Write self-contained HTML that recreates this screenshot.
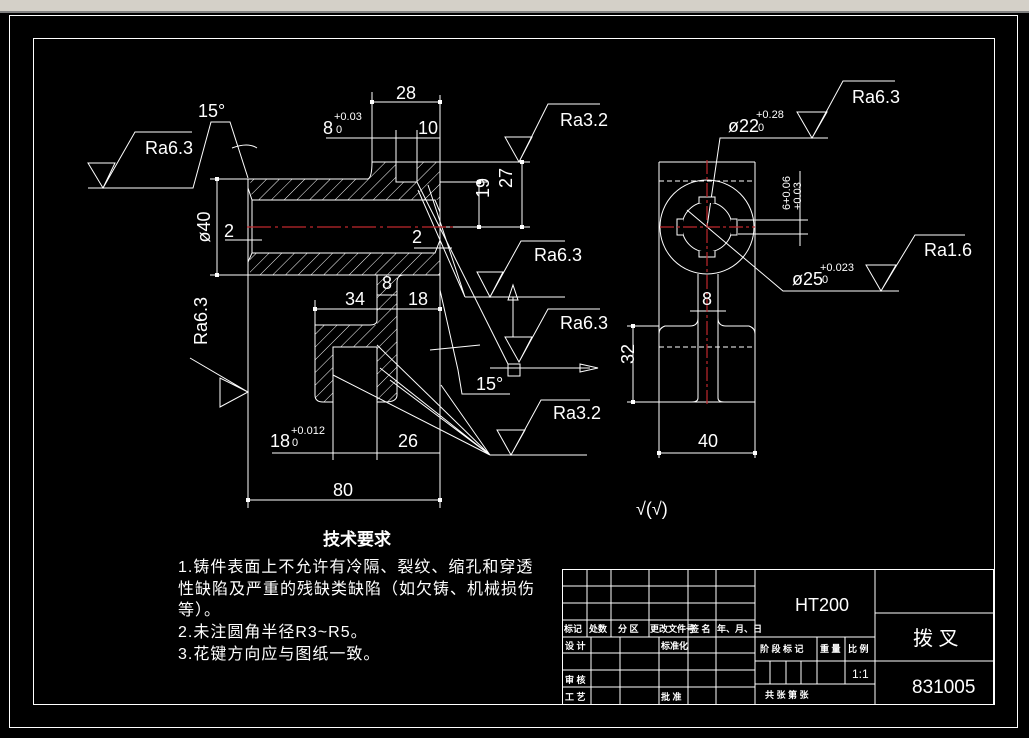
<!DOCTYPE html>
<html><head><meta charset="utf-8"><style>
html,body{margin:0;padding:0;background:#000;width:1029px;height:738px;overflow:hidden}
svg{display:block}
text{fill:#fff;font-family:"Liberation Sans",sans-serif}
.cn{font-family:"Liberation Sans","WenQuanYi Zen Hei","Noto Sans CJK SC",sans-serif}
</style></head><body>
<svg width="1029" height="738" viewBox="0 0 1029 738" xmlns="http://www.w3.org/2000/svg">
<defs>
<pattern id="h" width="9" height="9" patternUnits="userSpaceOnUse" patternTransform="rotate(45)">
<line x1="0" y1="0" x2="0" y2="9" stroke="#fff" stroke-width="1"/></pattern>
<marker id="a" markerWidth="6" markerHeight="6" refX="3" refY="3" orient="auto"><rect x="1" y="1" width="4" height="4" fill="#fff"/></marker>
</defs>
<rect x="0" y="0" width="1029" height="11" fill="#d4d0c8"/>
<rect x="0" y="11" width="1029" height="2" fill="#808080"/>
<g fill="none" stroke="#fff" stroke-width="1">
<rect x="9.5" y="15.5" width="1008" height="712"/>
<rect x="33.5" y="38.5" width="961" height="666"/>
</g>
<g fill="url(#h)" stroke="none">
<path d="M250,179 L368,179 Q372,175 372,162 L396,162 L396,182 L417,182 L417,162 L440,162 L440,200 L252,200 Z"/>
<path d="M250,253 L440,253 L440,275 L250,275 Z"/>
<path d="M315,325 L377,325 L377,275 L397,275 L397,398 Q397,402 385,402 L377,402 L377,347 L333,347 L333,402 L320,402 Q315,402 315,395 Z"/>
</g>
<g fill="none" stroke="#fff" stroke-width="1">
<path d="M248,179 L368,179 Q372,177 372,162 L440,162 L440,275 L248,275 Z"/>
<line x1="248" y1="179" x2="248" y2="508"/><line x1="440" y1="162" x2="440" y2="508"/>
<path d="M252,200 L435,200 L440,212 M252,253 L435,253 L440,240"/>
<path d="M248,188 L252,200 L252,253 L248,262"/>
<path d="M396,162 L396,182 L417,182 L417,162"/>
<path d="M377,275 L377,320 Q377,325 370,325 L315,325 L315,395 Q315,402 323,402 L333,402 L333,347 L377,347 L377,402 L385,402 Q397,402 397,395 L397,282 Q397,275 404,275"/>
<line x1="377" y1="347" x2="377" y2="460"/><line x1="333" y1="402" x2="333" y2="460"/>
<line x1="372" y1="92" x2="372" y2="162"/><line x1="440" y1="95" x2="440" y2="162"/>
<line x1="372" y1="102" x2="440" y2="102" marker-start="url(#a)" marker-end="url(#a)"/>
<line x1="326" y1="138" x2="440" y2="138"/><line x1="396" y1="130" x2="396" y2="162"/><line x1="417" y1="130" x2="417" y2="162"/>
<line x1="440" y1="182" x2="487" y2="182"/><line x1="479" y1="182" x2="479" y2="227" marker-start="url(#a)" marker-end="url(#a)"/>
<line x1="440" y1="162" x2="530" y2="162"/><line x1="522" y1="162" x2="522" y2="227" marker-start="url(#a)" marker-end="url(#a)"/>
<line x1="440" y1="227" x2="530" y2="227"/>
<line x1="210" y1="179" x2="248" y2="179"/><line x1="210" y1="275" x2="248" y2="275"/>
<line x1="217" y1="179" x2="217" y2="275" marker-start="url(#a)" marker-end="url(#a)"/>
<line x1="225" y1="240" x2="262" y2="240"/><line x1="414" y1="248" x2="452" y2="248"/>
<line x1="315" y1="300" x2="315" y2="325"/>
<line x1="315" y1="309" x2="440" y2="309" marker-start="url(#a)" marker-end="url(#a)"/>
<line x1="377" y1="295" x2="397" y2="295"/>
<line x1="272" y1="453" x2="440" y2="453"/>
<line x1="248" y1="500" x2="440" y2="500" marker-start="url(#a)" marker-end="url(#a)"/>
<path d="M88,163 L115,163 L103,188 Z M103,188 L135,132 L192,132 M88,188 L193,188 L211,122 L230,122 L248,178"/>
<path d="M232,148 Q248,142 257,148"/>
<path d="M505,137 L532,137 L519,162 Z M519,162 L548,104 L600,104"/>
<path d="M477,272 L503,272 L490,297 Z M490,297 L521,241 L565,241 M465,297 L565,297"/>
<path d="M465,297 L418,190 M465,297 L428,185"/>
<path d="M505,337 L532,337 L519,362 Z M519,362 L548,309 L600,309"/>
<line x1="513" y1="297" x2="513" y2="337"/><path d="M508,300 L513,285 L518,300 Z"/>
<rect x="508" y="364" width="12" height="12"/><line x1="490" y1="368" x2="590" y2="368"/><path d="M580,364 L598,368 L580,372 Z"/>
<path d="M417,182 L508,364 M440,290 L458,370 L462,394 L510,394"/>
<path d="M430,350 L480,345"/>
<path d="M497,430 L525,430 L511,455 Z M511,455 L541,400 L590,400 M490,455 L587,455"/>
<path d="M490,455 L333,375 M490,455 L377,345 M490,455 L380,368 M490,455 L390,380 M490,455 L441,385"/>
<path d="M190,358 L248,392 M220,378 L220,407 L248,392 Z"/>
<path d="M659,162 L755,162 M659,162 L659,458 M755,162 L755,458"/>
<line x1="659" y1="181" x2="755" y2="181" stroke-dasharray="5,3"/>
<line x1="659" y1="347" x2="755" y2="347" stroke-dasharray="5,3"/>
<circle cx="707" cy="227" r="47"/>
<circle cx="707" cy="227" r="25"/>
<path d="M698,274 L698,318 Q698,326 690,326 L665,326 Q659,328 659,334 M718,274 L718,318 Q718,326 726,326 L749,326 Q755,328 755,334"/>
<path d="M698,318 L698,398 Q698,402 692,402 M718,318 L718,398 Q718,402 724,402"/>
<line x1="627" y1="402" x2="755" y2="402"/><line x1="627" y1="326" x2="659" y2="326"/>
<line x1="633" y1="326" x2="633" y2="402" marker-start="url(#a)" marker-end="url(#a)"/>
<line x1="659" y1="453" x2="755" y2="453" marker-start="url(#a)" marker-end="url(#a)"/>
<line x1="690" y1="311" x2="726" y2="311"/>
<path d="M707,227 L720,138 L828,138"/>
<path d="M797,112 L827,112 L812,138 Z M812,138 L843,81 L895,81"/>
<path d="M687,210 L783,291 L899,291"/>
<path d="M866,265 L896,265 L881,291 Z M881,291 L915,235 L965,235"/>
<line x1="738" y1="220" x2="808" y2="220"/><line x1="738" y1="234" x2="808" y2="234"/>
<line x1="800" y1="171" x2="800" y2="246"/>
<rect x="562.5" y="569.5" width="431" height="135"/>
<path d="M562,586H755M562,603H755M562,620H755M562,637H875M562,653H755M562,670H755M562,687H755"/>
<path d="M587,569V637M611,569V637M649,569V637M688,569V704M716,569V704M755,569V704"/>
<path d="M591,637V704M620,637V704M659,637V704"/>
<path d="M875,569V704M875,613H994M875,661H994M755,661H875M755,684H875"/>
<path d="M817,637V684M845,637V684M770,661V684M786,661V684M801,661V684"/>
</g>
<g fill="#000" stroke="#fff">
<path d="M731,219 L737,219 L737,235 L731,235"/><path d="M683,219 L677,219 L677,235 L683,235"/>
<path d="M699,203 L699,197 L715,197 L715,203"/><path d="M699,251 L699,257 L715,257 L715,251"/>
</g>
<g stroke="#c0282d" stroke-width="1.2" fill="none">
<line x1="247" y1="227" x2="455" y2="227" stroke-dasharray="24,4,3,4"/>
<line x1="707" y1="160" x2="707" y2="405" stroke-dasharray="14,3,3,3"/>
<line x1="660" y1="227" x2="755" y2="227" stroke-dasharray="14,3,3,3"/>
</g>
<g font-size="18">
<text x="396" y="99">28</text>
<text x="323" y="134">8</text><text x="334" y="120" font-size="11">+0.03</text><text x="336" y="133" font-size="11">0</text>
<text x="418" y="134">10</text>
<text x="496" y="205" transform="rotate(-90 489 205)">19</text>
<text x="519" y="195" transform="rotate(-90 512 195)">27</text>
<text x="210" y="227" transform="rotate(-90 210 227)" text-anchor="middle">ø40</text>
<text x="224" y="237">2</text><text x="412" y="243">2</text>
<text x="345" y="305">34</text><text x="382" y="289">8</text><text x="408" y="305">18</text>
<text x="270" y="447">18</text><text x="291" y="434" font-size="11">+0.012</text><text x="292" y="446" font-size="11">0</text>
<text x="398" y="447">26</text>
<text x="333" y="496">80</text>
<text x="145" y="154">Ra6.3</text>
<text x="198" y="117">15°</text>
<text x="560" y="126">Ra3.2</text>
<text x="534" y="261">Ra6.3</text>
<text x="560" y="329">Ra6.3</text>
<text x="476" y="390">15°</text>
<text x="553" y="419">Ra3.2</text>
<text x="207" y="345" transform="rotate(-90 207 345)">Ra6.3</text>
<text x="852" y="103">Ra6.3</text>
<text x="924" y="256">Ra1.6</text>
<text x="728" y="132">ø22</text><text x="756" y="118" font-size="11">+0.28</text><text x="758" y="131" font-size="11">0</text>
<text x="792" y="285">ø25</text><text x="820" y="271" font-size="11">+0.023</text><text x="822" y="283" font-size="11">0</text>
<text x="790" y="210" font-size="11" transform="rotate(-90 790 210)">6+0.06</text>
<text x="801" y="210" font-size="11" transform="rotate(-90 801 210)">+0.03</text>
<text x="626" y="372" transform="rotate(-90 626 364)">32</text>
<text x="698" y="447">40</text>
<text x="702" y="305">8</text>
<text x="636" y="515">√(√)</text>
<text x="795" y="611">HT200</text>
<text x="912" y="693" font-size="19">831005</text>
<text x="852" y="678" font-size="12">1:1</text>
</g>
<g class="cn" fill="#fff">
<text x="323" y="545" font-size="17" font-weight="bold">技术要求</text>
<g font-size="16" letter-spacing="1">
<text x="178" y="572">1.铸件表面上不允许有冷隔、裂纹、缩孔和穿透</text>
<text x="178" y="594">性缺陷及严重的残缺类缺陷（如欠铸、机械损伤</text>
<text x="178" y="615">等）。</text>
<text x="178" y="637">2.未注圆角半径R3~R5。</text>
<text x="178" y="659">3.花键方向应与图纸一致。</text>
</g>
<g font-size="9" font-weight="bold">
<text x="564" y="632">标记</text><text x="589" y="632">处数</text><text x="618" y="632">分 区</text><text x="650" y="632">更改文件号</text><text x="690" y="632">签 名</text><text x="717" y="632">年、月、日</text>
<text x="565" y="649">设 计</text><text x="661" y="649">标准化</text>
<text x="565" y="683">审 核</text><text x="565" y="700">工 艺</text><text x="661" y="700">批 准</text>
<text x="760" y="652">阶 段 标 记</text><text x="820" y="652">重 量</text><text x="848" y="652">比 例</text>
<text x="765" y="698">共    张  第    张</text>
</g>
<text x="913" y="645" font-size="20">拨 叉</text>
</g>
</svg>
</body></html>
